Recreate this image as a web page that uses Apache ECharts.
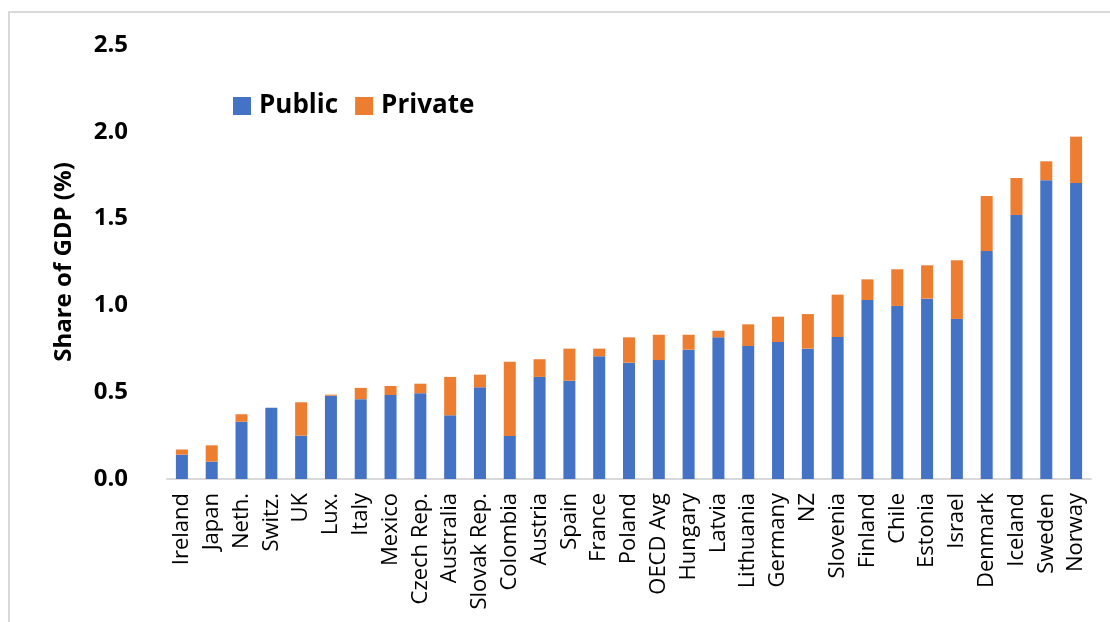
<!DOCTYPE html>
<html>
<head>
<meta charset="utf-8">
<script src="https://cdn.jsdelivr.net/npm/echarts@6/dist/echarts.min.js"></script>
<style>
  html, body { margin: 0; padding: 0; background: #fff; }
  #chart { width: 1110px; height: 622px; }
</style>
</head>
<body>
<div id="chart"></div>
<script>
// 국가별 GDP 대비 비중 (Public / Private)
var categories = ["Ireland", "Japan", "Neth.", "Switz.", "UK", "Lux.", "Italy", "Mexico", "Czech Rep.", "Australia",
  "Slovak Rep.", "Colombia", "Austria", "Spain", "France", "Poland", "OECD Avg", "Hungary", "Latvia", "Lithuania",
  "Germany", "NZ", "Slovenia", "Finland", "Chile", "Estonia", "Israel", "Denmark", "Iceland", "Sweden", "Norway"];
var publicVals = [0.14, 0.10, 0.33, 0.41, 0.25, 0.48, 0.46, 0.484, 0.494, 0.367,
  0.528, 0.248, 0.588, 0.566, 0.707, 0.67, 0.685, 0.745, 0.816, 0.766,
  0.789, 0.751, 0.818, 1.031, 0.997, 1.039, 0.922, 1.313, 1.521, 1.721, 1.705];
var privateVals = [0.03, 0.094, 0.043, 0, 0.192, 0.006, 0.065, 0.052, 0.055, 0.221,
  0.073, 0.428, 0.102, 0.185, 0.044, 0.146, 0.146, 0.086, 0.038, 0.125,
  0.146, 0.199, 0.244, 0.119, 0.211, 0.192, 0.338, 0.317, 0.213, 0.109, 0.267];
var yTicks = [0, 0.5, 1.0, 1.5, 2.0, 2.5];

var FONT = "Open Sans";
var chart = echarts.init(document.getElementById("chart"));

var option = {
  animation: false,
  backgroundColor: "#fff",
  textStyle: { fontFamily: FONT },
  legend: {
    data: ["Public", "Private"],
    left: 233,
    top: 93,
    padding: 0,
    icon: "rect",
    itemWidth: 18,
    itemHeight: 18,
    itemGap: 17,
    textStyle: { fontSize: 26, fontWeight: "bold", color: "#000", fontFamily: FONT, padding: [0, 0, 0, 3] }
  },
  grid: {
    left: 167,
    right: 19,
    top: 45,
    bottom: 143
  },
  xAxis: {
    type: "category",
    data: categories,
    axisLine: { lineStyle: { color: "#d9d9d9", width: 2 } },
    axisTick: { show: false },
    axisLabel: {
      interval: 0,
      rotate: 90,
      fontSize: 22,
      color: "#000",
      margin: 14,
      fontFamily: FONT
    }
  },
  yAxis: {
    type: "value",
    min: yTicks[0],
    max: yTicks[yTicks.length - 1],
    interval: 0.5,
    splitLine: { show: false },
    axisLine: { show: false },
    axisTick: { show: false },
    axisLabel: {
      margin: 39,
      fontSize: 24,
      fontWeight: "bold",
      color: "#000",
      fontFamily: FONT,
      formatter: function (v) { return v.toFixed(1); }
    }
  },
  graphic: [
    {
      type: "polyline",
      shape: { points: [[9, 622], [9, 12], [1110, 12]] },
      style: { stroke: "#d9d9d9", lineWidth: 2, fill: null }
    },
    {
      type: "text",
      x: 64,
      y: 262,
      rotation: Math.PI / 2,
      style: {
        text: "Share of GDP (%)",
        fontSize: 24,
        fontWeight: "bold",
        fontFamily: FONT,
        fill: "#000",
        align: "center",
        verticalAlign: "middle"
      }
    }
  ],
  series: [
    {
      name: "Public",
      type: "bar",
      stack: "total",
      data: publicVals,
      barWidth: 12,
      itemStyle: { color: "#4472C4" }
    },
    {
      name: "Private",
      type: "bar",
      stack: "total",
      data: privateVals,
      barWidth: 12,
      itemStyle: { color: "#ED7D31" }
    }
  ]
};
chart.setOption(option);
</script>
</body>
</html>
